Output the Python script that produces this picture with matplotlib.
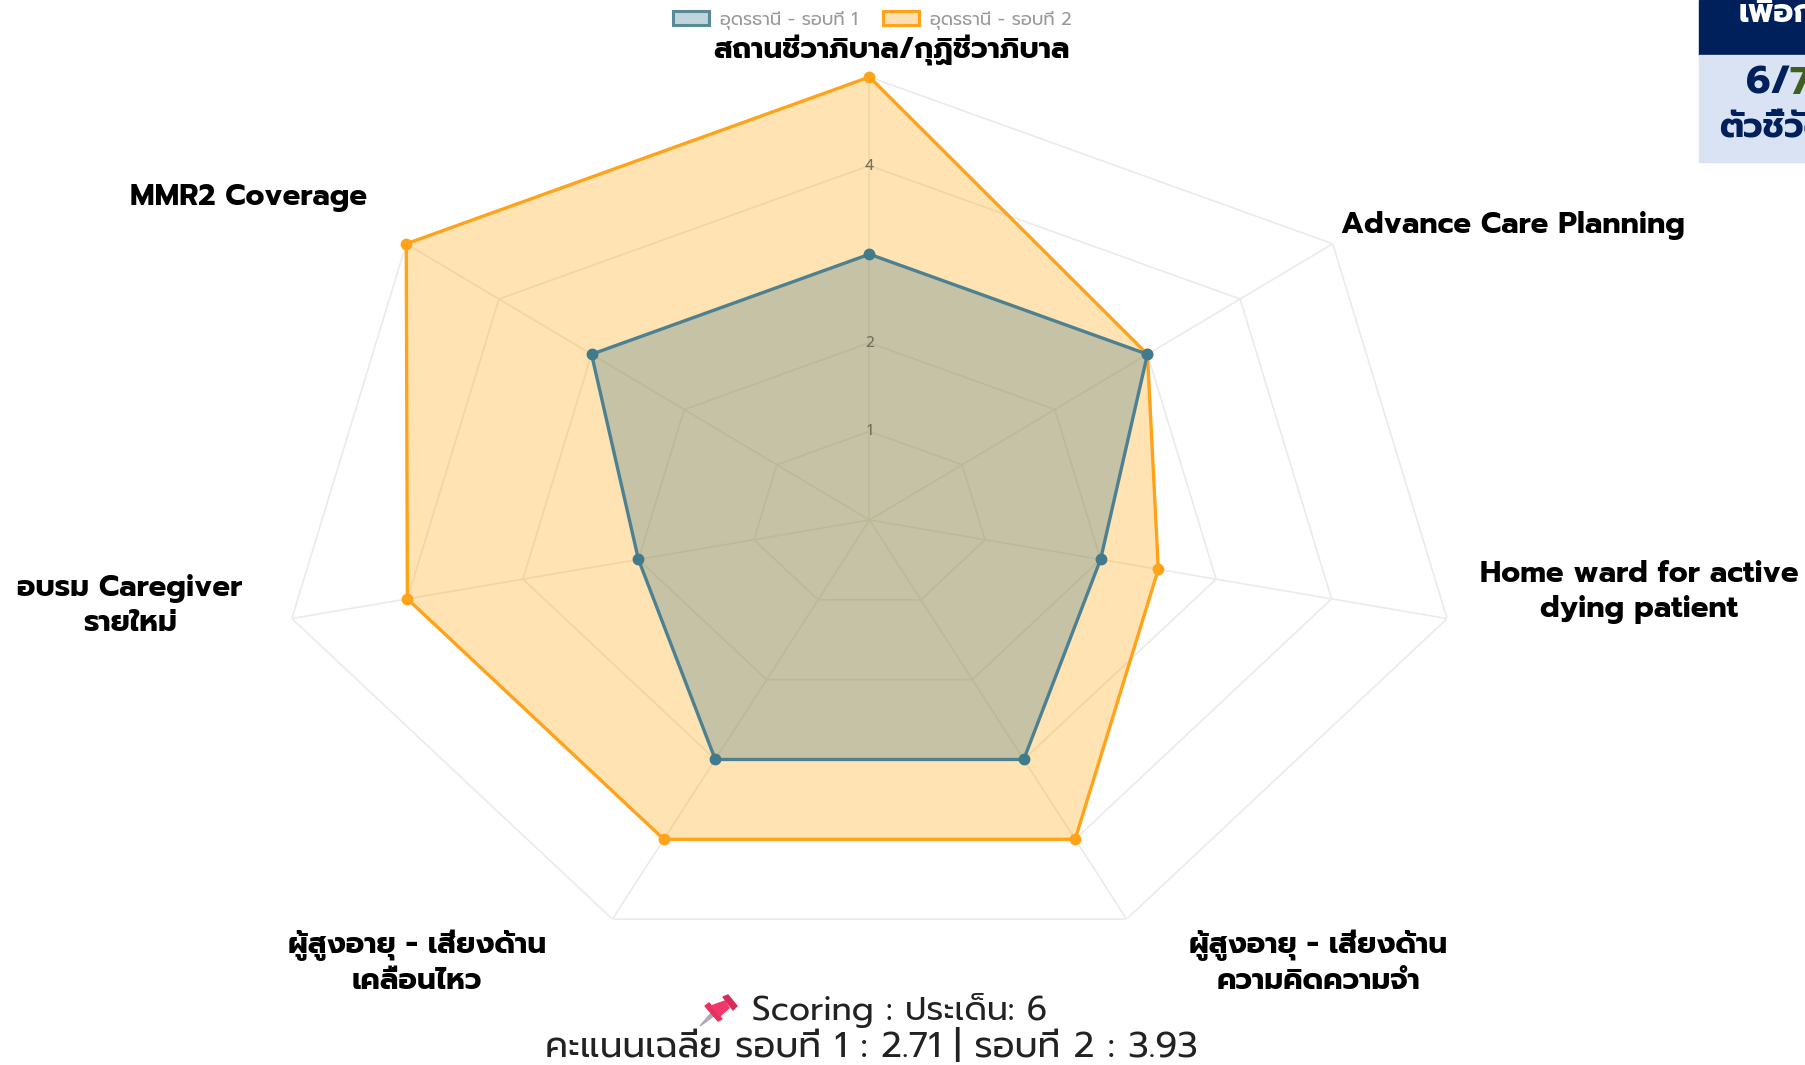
import numpy as np
import matplotlib
matplotlib.use('Agg')
import matplotlib.pyplot as plt
from matplotlib.patches import Patch, Rectangle, Polygon

plt.rcParams['font.family'] = ['Prompt', 'DejaVu Sans']

W, H = 1806, 1065

categories = ['สถานชีวาภิบาล/กุฏิชีวาภิบาล', 'Advance Care Planning',
              'Home ward for active\ndying patient', 'ผู้สูงอายุ - เสี่ยงด้าน\nความคิดความจำ',
              'ผู้สูงอายุ - เสี่ยงด้าน\nเคลื่อนไหว', 'อบรม Caregiver\nรายใหม่', 'MMR2 Coverage']
round1 = [3, 3, 2, 3, 3, 2, 3]
round2 = [5, 3, 2.5, 4, 4, 4, 5]
round_names = ['อุดรธานี - รอบที่ 1', 'อุดรธานี - รอบที่ 2']
rings = [1, 2, 3, 4, 5]
tick_labels = ['1', '2', '4']
tick_values = [1, 2, 4]

theta = np.linspace(0, 2 * np.pi, len(categories), endpoint=False)
closed = np.append(theta, theta[0])

fig = plt.figure(figsize=(W / 100, H / 100), dpi=100, facecolor='white')
# the reference is stretched sideways, so the polar axes are not kept round
ax = fig.add_axes([277 / W, 1 - 963 / H, 1185 / W, 886 / H], projection='polar')
ax.set_aspect('auto')
ax.set_theta_zero_location('N')
ax.set_theta_direction(-1)
ax.set_ylim(0, 5)
ax.grid(False)
ax.set_xticks([])
ax.set_yticks([])
ax.spines['polar'].set_visible(False)
ax.patch.set_alpha(0)

# grid
for r in rings:
    ax.plot(closed, [r] * len(closed), color='#ebebeb', lw=1.2, zorder=1)
for t in theta:
    ax.plot([t, t], [0, 5], color='#ebebeb', lw=1.2, zorder=1)

# series
ax.fill(closed, round2 + round2[:1], color='#ffa500', alpha=0.3, lw=0, zorder=2)
ax.plot(closed, round2 + round2[:1], color='#ffa31a', lw=2.4, zorder=3, clip_on=False)
ax.plot(theta, round2, 'o', color='#ffa31a', ms=7.5, zorder=4, clip_on=False)
ax.fill(closed, round1 + round1[:1], color='#4f7f8a', alpha=0.32, lw=0, zorder=5)
ax.plot(closed, round1 + round1[:1], color='#4d8090', lw=2.4, zorder=6)
ax.plot(theta, round1, 'o', color='#417a8a', ms=7.5, zorder=7)

for v, s in zip(tick_values, tick_labels):
    ax.text(0, v, s, ha='center', va='center', fontsize=11, color='#77705f', zorder=8)


def put(x, y, s, **kw):
    return fig.text(x / W, 1 - y / H, s, ha='center', va='center', **kw)


label_xy = [(892, 51), (1513, 226), (1639, 592), (1318, 963), (417, 963), (130, 606), (249, 198)]
for (x, y), s in zip(label_xy, categories):
    put(x, y, s, fontsize=21.2, fontweight='bold', color='black', linespacing=1.28)

# legend
handles = [Patch(facecolor='#bfd5da', edgecolor='#5a8a98', lw=2.2),
           Patch(facecolor='#ffe0b3', edgecolor='#ffa31a', lw=2.2)]
fig.legend(handles, round_names, ncol=2, loc='center', bbox_to_anchor=(872 / W, 1 - 20 / H),
           frameon=False, fontsize=13, labelcolor='#999999', handlelength=2, handleheight=0.8,
           columnspacing=1.4, handletextpad=0.6)

# footer
put(900, 1010, 'Scoring : ประเด็น: 6', fontsize=24, color='#222222')
put(871, 1047, 'คะแนนเฉลี่ย รอบที่ 1 : 2.71 | รอบที่ 2 : 3.93', fontsize=25.8, color='#222222')


# pin icon
def shape(points, color):
    pts = [(x / W, 1 - y / H) for x, y in points]
    fig.add_artist(Polygon(pts, closed=True, transform=fig.transFigure, color=color))


shape([(700, 1026), (712, 1012), (715, 1015)], '#b0a8b8')
shape([(705, 1006), (709, 1003), (722, 1019), (718, 1021)], '#e8305f')
shape([(711, 1006), (725, 1001), (729, 1008), (720, 1016)], '#f0386b')
shape([(723, 997), (728, 995), (737, 1006), (733, 1010)], '#d92c5e')

# top right box, cut by the picture edge as in the reference
fig.add_artist(Rectangle((1699 / W, 1 - 55 / H), 107 / W, 55 / H, transform=fig.transFigure, color='#00205b'))
fig.add_artist(Rectangle((1699 / W, 1 - 162 / H), 107 / W, 107 / H, transform=fig.transFigure, color='#dae3f3'))
fig.text(1739 / W, 1 - 14 / H, 'เพื่อก', fontsize=23, fontweight='bold', color='white', va='center')
fig.text(1746 / W, 1 - 84 / H, '6/', fontsize=28, fontweight='bold', color='#00205b', va='center')
fig.text(1789 / W, 1 - 84 / H, '7', fontsize=28, fontweight='bold', color='#3f5f20', va='center')
fig.text(1719 / W, 1 - 129 / H, 'ตัวชี้วัด', fontsize=25, fontweight='bold', color='#00205b', va='center')

fig.savefig('out.png', dpi=100)
